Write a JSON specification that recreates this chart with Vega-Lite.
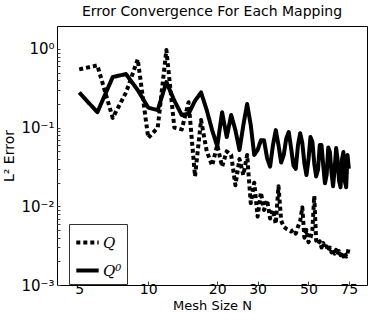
{
  "$schema": "https://vega.github.io/schema/vega-lite/v6.json",
  "width": 310,
  "height": 259,
  "autosize": "none",
  "padding": {"left": 57, "top": 26, "right": 7, "bottom": 36},
  "background": "white",
  "title": {
    "text": "Error Convergence For Each Mapping",
    "font": "DejaVu Sans",
    "fontSize": 14,
    "fontWeight": "normal",
    "color": "black",
    "offset": 7,
    "anchor": "middle"
  },
  "config": {
    "view": {"stroke": "black", "strokeWidth": 1},
    "axis": {
      "grid": false,
      "domain": false,
      "tickColor": "#444",
      "tickSize": -4,
      "labelColor": "black",
      "labelFont": "DejaVu Sans",
      "labelFontSize": 15,
      "titleFont": "DejaVu Sans",
      "titleFontWeight": "normal",
      "titleFontSize": 14,
      "titleColor": "black"
    }
  },
  "datasets": {
    "err": [
      {"N": 5, "e": 0.55, "s": "Q"}, {"N": 6, "e": 0.62, "s": "Q"}, {"N": 7, "e": 0.133, "s": "Q"},
      {"N": 8, "e": 0.28, "s": "Q"}, {"N": 9, "e": 0.74, "s": "Q"}, {"N": 10, "e": 0.074, "s": "Q"},
      {"N": 11, "e": 0.10, "s": "Q"}, {"N": 12, "e": 0.97, "s": "Q"}, {"N": 13, "e": 0.10, "s": "Q"},
      {"N": 14, "e": 0.095, "s": "Q"}, {"N": 15, "e": 0.21, "s": "Q"}, {"N": 16, "e": 0.024, "s": "Q"},
      {"N": 17, "e": 0.125, "s": "Q"}, {"N": 18, "e": 0.05, "s": "Q"}, {"N": 19, "e": 0.033, "s": "Q"},
      {"N": 20, "e": 0.06, "s": "Q"}, {"N": 21, "e": 0.032, "s": "Q"}, {"N": 22, "e": 0.05, "s": "Q"},
      {"N": 23, "e": 0.045, "s": "Q"}, {"N": 24, "e": 0.0185, "s": "Q"}, {"N": 25, "e": 0.04, "s": "Q"},
      {"N": 26, "e": 0.025, "s": "Q"}, {"N": 27, "e": 0.045, "s": "Q"}, {"N": 28, "e": 0.011, "s": "Q"},
      {"N": 29, "e": 0.02, "s": "Q"}, {"N": 30, "e": 0.0074, "s": "Q"}, {"N": 31, "e": 0.015, "s": "Q"},
      {"N": 32, "e": 0.009, "s": "Q"}, {"N": 33, "e": 0.012, "s": "Q"}, {"N": 34, "e": 0.007, "s": "Q"},
      {"N": 35, "e": 0.009, "s": "Q"}, {"N": 36, "e": 0.006, "s": "Q"}, {"N": 37, "e": 0.018, "s": "Q"},
      {"N": 38, "e": 0.0066, "s": "Q"}, {"N": 39, "e": 0.0055, "s": "Q"}, {"N": 40, "e": 0.0052, "s": "Q"},
      {"N": 41, "e": 0.005, "s": "Q"}, {"N": 42, "e": 0.0048, "s": "Q"}, {"N": 43, "e": 0.005, "s": "Q"},
      {"N": 44, "e": 0.0045, "s": "Q"}, {"N": 45, "e": 0.0055, "s": "Q"}, {"N": 46, "e": 0.0065, "s": "Q"},
      {"N": 47, "e": 0.0097, "s": "Q"}, {"N": 48, "e": 0.004, "s": "Q"}, {"N": 49, "e": 0.005, "s": "Q"},
      {"N": 50, "e": 0.0035, "s": "Q"}, {"N": 51, "e": 0.004, "s": "Q"}, {"N": 52, "e": 0.005, "s": "Q"},
      {"N": 53, "e": 0.0135, "s": "Q"}, {"N": 54, "e": 0.0037, "s": "Q"}, {"N": 55, "e": 0.0033, "s": "Q"},
      {"N": 56, "e": 0.0036, "s": "Q"}, {"N": 57, "e": 0.003, "s": "Q"}, {"N": 58, "e": 0.0034, "s": "Q"},
      {"N": 59, "e": 0.0029, "s": "Q"}, {"N": 60, "e": 0.0031, "s": "Q"}, {"N": 61, "e": 0.0027, "s": "Q"},
      {"N": 62, "e": 0.003, "s": "Q"}, {"N": 63, "e": 0.0026, "s": "Q"}, {"N": 64, "e": 0.0029, "s": "Q"},
      {"N": 65, "e": 0.0025, "s": "Q"}, {"N": 66, "e": 0.0028, "s": "Q"}, {"N": 67, "e": 0.0024, "s": "Q"},
      {"N": 68, "e": 0.0027, "s": "Q"}, {"N": 69, "e": 0.0024, "s": "Q"}, {"N": 70, "e": 0.0026, "s": "Q"},
      {"N": 71, "e": 0.0023, "s": "Q"}, {"N": 72, "e": 0.0026, "s": "Q"}, {"N": 73, "e": 0.0023, "s": "Q"},
      {"N": 74, "e": 0.0025, "s": "Q"}, {"N": 75, "e": 0.003, "s": "Q"},
      {"N": 5, "e": 0.28, "s": "Q⁰"}, {"N": 6, "e": 0.157, "s": "Q⁰"}, {"N": 7, "e": 0.44, "s": "Q⁰"},
      {"N": 8, "e": 0.48, "s": "Q⁰"}, {"N": 9, "e": 0.30, "s": "Q⁰"}, {"N": 10, "e": 0.18, "s": "Q⁰"},
      {"N": 11, "e": 0.167, "s": "Q⁰"}, {"N": 12, "e": 0.38, "s": "Q⁰"}, {"N": 13, "e": 0.22, "s": "Q⁰"},
      {"N": 14, "e": 0.145, "s": "Q⁰"}, {"N": 15, "e": 0.15, "s": "Q⁰"}, {"N": 16, "e": 0.22, "s": "Q⁰"},
      {"N": 17, "e": 0.28, "s": "Q⁰"}, {"N": 18, "e": 0.167, "s": "Q⁰"}, {"N": 19, "e": 0.093, "s": "Q⁰"},
      {"N": 20, "e": 0.058, "s": "Q⁰"}, {"N": 21, "e": 0.157, "s": "Q⁰"}, {"N": 22, "e": 0.076, "s": "Q⁰"},
      {"N": 23, "e": 0.145, "s": "Q⁰"}, {"N": 24, "e": 0.093, "s": "Q⁰"}, {"N": 25, "e": 0.052, "s": "Q⁰"},
      {"N": 26, "e": 0.108, "s": "Q⁰"}, {"N": 27, "e": 0.2, "s": "Q⁰"}, {"N": 28, "e": 0.108, "s": "Q⁰"},
      {"N": 29, "e": 0.045, "s": "Q⁰"}, {"N": 30, "e": 0.052, "s": "Q⁰"}, {"N": 31, "e": 0.069, "s": "Q⁰"},
      {"N": 32, "e": 0.069, "s": "Q⁰"}, {"N": 33, "e": 0.041, "s": "Q⁰"}, {"N": 34, "e": 0.032, "s": "Q⁰"},
      {"N": 35, "e": 0.06, "s": "Q⁰"}, {"N": 36, "e": 0.093, "s": "Q⁰"}, {"N": 37, "e": 0.06, "s": "Q⁰"},
      {"N": 38, "e": 0.036, "s": "Q⁰"}, {"N": 39, "e": 0.045, "s": "Q⁰"}, {"N": 40, "e": 0.073, "s": "Q⁰"},
      {"N": 41, "e": 0.088, "s": "Q⁰"}, {"N": 42, "e": 0.055, "s": "Q⁰"}, {"N": 43, "e": 0.033, "s": "Q⁰"},
      {"N": 44, "e": 0.030, "s": "Q⁰"}, {"N": 45, "e": 0.06, "s": "Q⁰"}, {"N": 46, "e": 0.085, "s": "Q⁰"},
      {"N": 47, "e": 0.064, "s": "Q⁰"}, {"N": 48, "e": 0.035, "s": "Q⁰"}, {"N": 49, "e": 0.025, "s": "Q⁰"},
      {"N": 50, "e": 0.039, "s": "Q⁰"}, {"N": 51, "e": 0.076, "s": "Q⁰"}, {"N": 52, "e": 0.066, "s": "Q⁰"},
      {"N": 53, "e": 0.035, "s": "Q⁰"}, {"N": 54, "e": 0.024, "s": "Q⁰"}, {"N": 55, "e": 0.029, "s": "Q⁰"},
      {"N": 56, "e": 0.06, "s": "Q⁰"}, {"N": 57, "e": 0.06, "s": "Q⁰"}, {"N": 58, "e": 0.033, "s": "Q⁰"},
      {"N": 59, "e": 0.0196, "s": "Q⁰"}, {"N": 60, "e": 0.025, "s": "Q⁰"}, {"N": 61, "e": 0.056, "s": "Q⁰"},
      {"N": 62, "e": 0.049, "s": "Q⁰"}, {"N": 63, "e": 0.027, "s": "Q⁰"}, {"N": 64, "e": 0.018, "s": "Q⁰"},
      {"N": 65, "e": 0.029, "s": "Q⁰"}, {"N": 66, "e": 0.055, "s": "Q⁰"}, {"N": 67, "e": 0.039, "s": "Q⁰"},
      {"N": 68, "e": 0.021, "s": "Q⁰"}, {"N": 69, "e": 0.0175, "s": "Q⁰"}, {"N": 70, "e": 0.039, "s": "Q⁰"},
      {"N": 71, "e": 0.049, "s": "Q⁰"}, {"N": 72, "e": 0.021, "s": "Q⁰"}, {"N": 73, "e": 0.0175, "s": "Q⁰"},
      {"N": 74, "e": 0.045, "s": "Q⁰"}, {"N": 75, "e": 0.03, "s": "Q⁰"}
    ]
  },
  "data": {"name": "err"},
  "mark": {"type": "line", "color": "black", "strokeWidth": 4, "strokeCap": "butt", "strokeJoin": "round", "clip": true},
  "encoding": {
    "x": {
      "field": "N",
      "type": "quantitative",
      "scale": {"type": "log", "domain": [4, 90], "nice": false},
      "axis": {"values": [5, 10, 20, 30, 50, 75], "title": "Mesh Size N", "titlePadding": 3, "labelPadding": 1, "labelFontSize": 14, "titleFontSize": 13}
    },
    "y": {
      "field": "e",
      "type": "quantitative",
      "scale": {"type": "log", "domain": [0.001, 1.96], "nice": false},
      "axis": {
        "values": [0.001, 0.002, 0.003, 0.004, 0.005, 0.006, 0.007, 0.008, 0.009, 0.01, 0.02, 0.03, 0.04, 0.05, 0.06, 0.07, 0.08, 0.09, 0.1, 0.2, 0.3, 0.4, 0.5, 0.6, 0.7, 0.8, 0.9, 1],
        "labelExpr": "datum.value == 1 ? '10⁰' : datum.value == 0.1 ? '10⁻¹' : datum.value == 0.01 ? '10⁻²' : datum.value == 0.001 ? '10⁻³' : ''",
        "tickSize": -3,
        "labelPadding": 6,
        "title": "L² Error",
        "titlePadding": 4
      }
    },
    "strokeDash": {
      "field": "s",
      "type": "nominal",
      "scale": {"domain": ["Q", "Q⁰"], "range": [[4, 3], [1, 0]]},
      "legend": {
        "title": null,
        "orient": "none",
        "legendX": 12,
        "legendY": 198,
        "symbolType": "stroke",
        "symbolStrokeWidth": 4,
        "symbolStrokeColor": "black",
        "symbolSize": 500,
        "labelFont": "DejaVu Serif",
        "labelFontStyle": "italic",
        "labelFontSize": 15,
        "labelColor": "black",
        "strokeColor": "#333",
        "fillColor": "white",
        "padding": 5,
        "rowPadding": 6,
        "labelOffset": 2
      }
    }
  }
}
